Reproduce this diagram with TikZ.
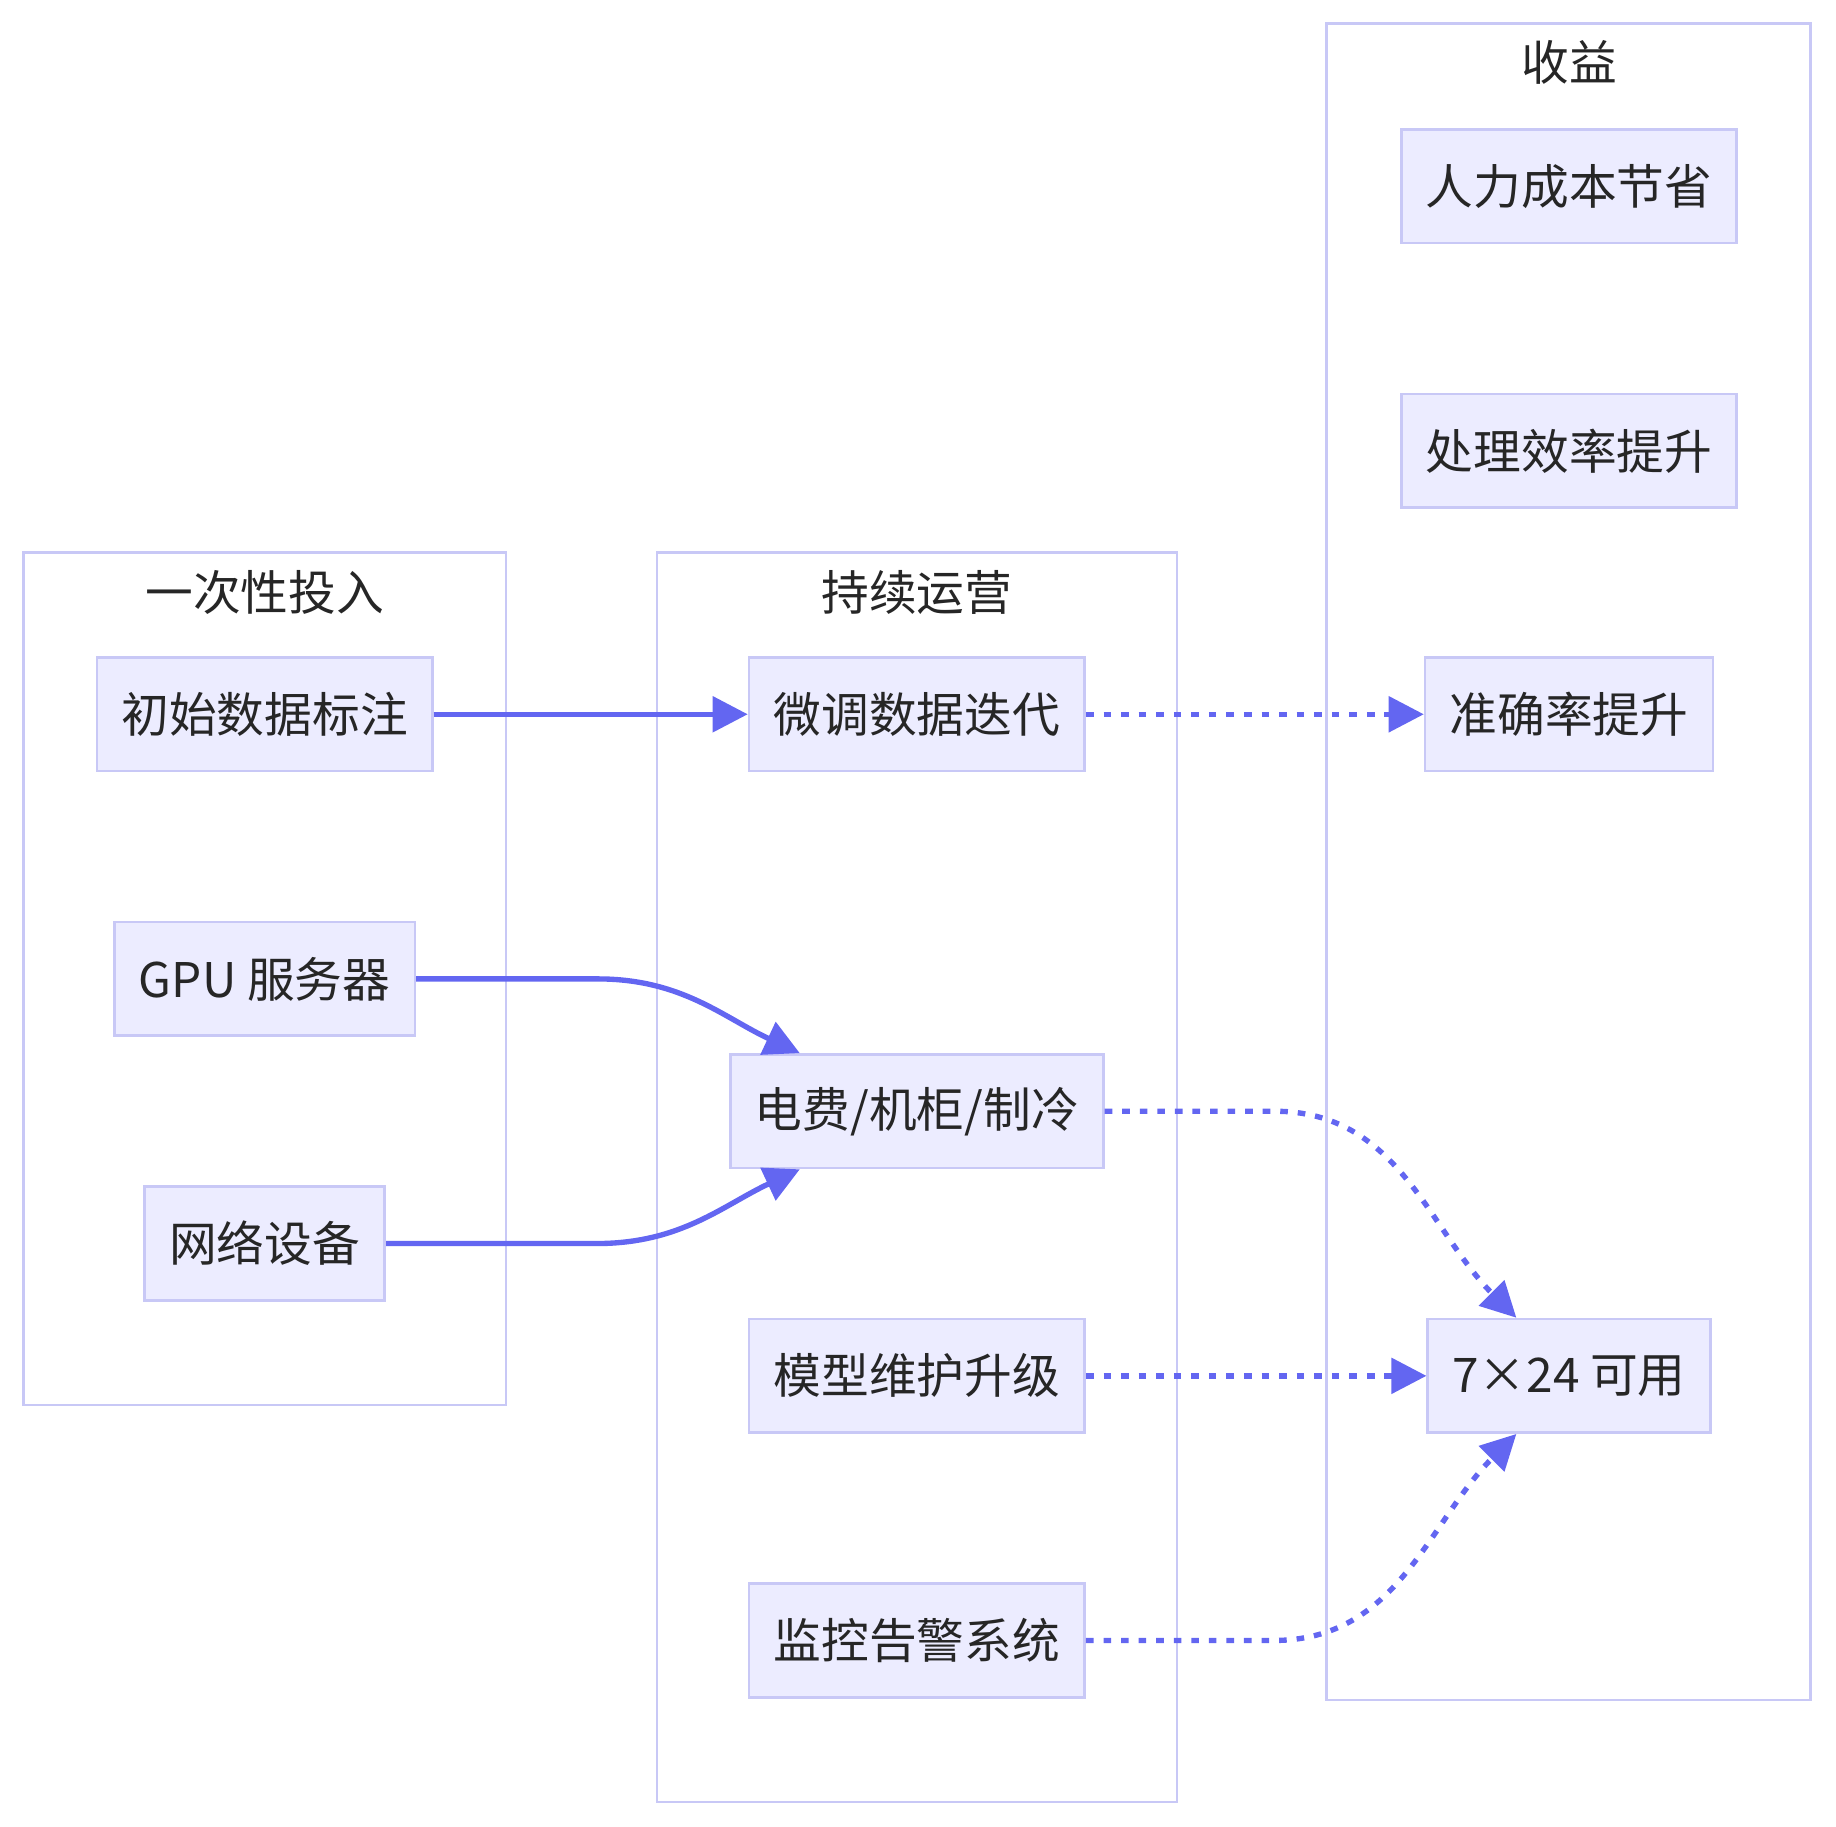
\documentclass[tikz,border=0pt]{standalone}
\usepackage{fontspec}
\setmainfont{Noto Sans CJK SC}
\usepackage{tikz}
\usetikzlibrary{arrows.meta}
\definecolor{boxFill}{HTML}{ECECFF}
\definecolor{boxLine}{HTML}{C8C8F6}
\definecolor{flowLine}{HTML}{6366F1}
\definecolor{inkText}{HTML}{262626}
\tikzstyle{itemBox}=[shape = rectangle, minimum height = 1.94cm, inner xsep = 0.42cm, draw = boxLine, fill = boxFill, line width = 1.3pt, text = inkText, font = \fontsize{23.2}{27}\selectfont]
\tikzstyle{groupBox}=[draw = boxLine, line width = 1.2pt]
\tikzstyle{groupTitle}=[text = inkText, font = \fontsize{23.2}{27}\selectfont]

\begin{document}
\begin{tikzpicture}[x = 0.02cm, y = -0.02cm]
\tikzstyle{solidFlow}=[draw = flowLine, line width = 2.6pt, -{Triangle[length = 0.6cm, width = 0.6cm]}]
\tikzstyle{dottedFlow}=[solidFlow, dash pattern = on 0.13cm off 0.17cm]
\useasboundingbox (0,0) rectangle (1568,1560);
\draw[groupBox] (20,472) rectangle (432,1200);
\draw[groupBox] (561,472) rectangle (1005,1539);
\draw[groupBox] (1133,20) rectangle (1546,1452);
\node[groupTitle] (t0) at (226,506) {一次性投入};
\node[groupTitle] (t1) at (783,506) {持续运营};
\node[groupTitle] (t2) at (1340,53) {收益};
\node[itemBox] (v0) at (226,610) {初始数据标注};
\node[itemBox] (v1) at (226,836) {GPU 服务器};
\node[itemBox] (v2) at (226,1062) {网络设备};
\node[itemBox] (v3) at (783,610) {微调数据迭代};
\node[itemBox] (v4) at (783,949) {电费/机柜/制冷};
\node[itemBox] (v5) at (783,1175) {模型维护升级};
\node[itemBox] (v6) at (783,1401) {监控告警系统};
\node[itemBox] (v7) at (1340,159) {人力成本节省};
\node[itemBox] (v8) at (1340,385) {处理效率提升};
\node[itemBox] (v9) at (1340,610) {准确率提升};
\node[itemBox] (v10) at (1340,1175) {7×24 可用};
\draw[solidFlow] (v0) -- (v3);
\draw[solidFlow] (v1.east) -- ++(3.1cm,0) to[out = 0, in = 155] ([xshift = -2cm]v4.north);
\draw[solidFlow] (v2.east) -- ++(3.6cm,0) to[out = 0, in = 205] ([xshift = -2cm]v4.south);
\draw[dottedFlow] (v3) -- (v9);
\draw[dottedFlow] (v4.east) -- ++(2.9cm,0) to[out = 0, in = 135] ([xshift = -0.9cm]v10.north);
\draw[dottedFlow] (v5) -- (v10);
\draw[dottedFlow] (v6.east) -- ++(3.2cm,0) to[out = 0, in = 225] ([xshift = -0.9cm]v10.south);
\end{tikzpicture}
\end{document}
